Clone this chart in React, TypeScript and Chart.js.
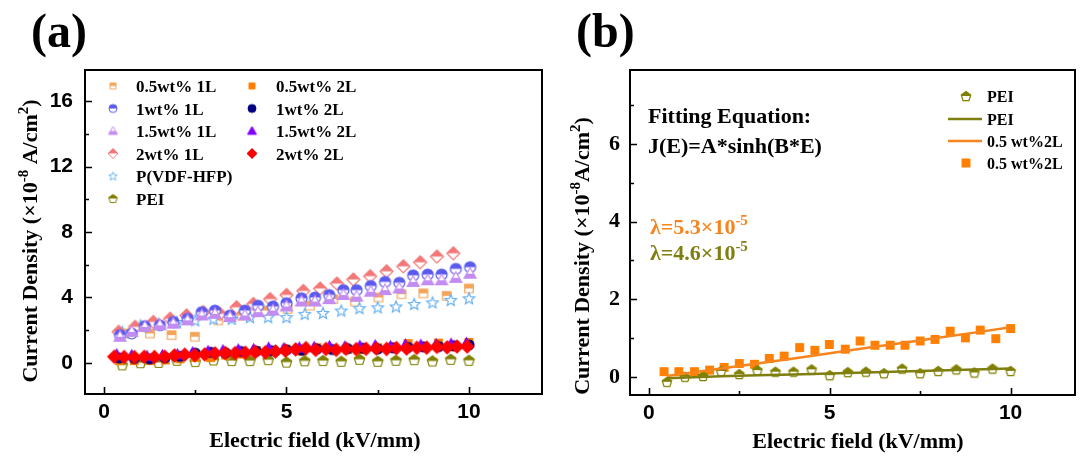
import React, { useEffect, useRef } from 'react';
import { Chart, registerables } from 'chart.js';

Chart.register(...registerables);

const SERIF = '"Liberation Serif", "Times New Roman", serif';
const SANS = '"Liberation Sans", Arial, sans-serif';

// ---------------- Panel (a) data ----------------
const x05wt1L = [0.58, 1.26, 1.85, 2.49, 3.13, 3.77, 4.41, 5.03, 5.64, 6.28, 6.88, 7.52, 8.15, 8.75, 9.39, 10.0];
const y05wt1L = [1.8, 1.8, 1.7, 1.6, 2.6, 2.9, 3.2, 3.3, 3.5, 3.9, 3.75, 4.0, 4.2, 4.25, 4.1, 4.55];

const x1wt1L = [0.44, 0.76, 1.12, 1.53, 1.9, 2.29, 2.68, 3.04, 3.45, 3.86, 4.22, 4.63, 5.0, 5.41, 5.78, 6.17, 6.56, 6.92, 7.31, 7.7, 8.09, 8.47, 8.87, 9.25, 9.64, 10.03];
const y1wt1L = [1.7, 1.8, 2.25, 2.3, 2.5, 2.7, 3.1, 3.2, 2.9, 3.2, 3.5, 3.45, 3.65, 3.95, 4.0, 4.15, 4.45, 4.45, 4.7, 4.95, 4.9, 5.35, 5.4, 5.4, 5.75, 5.85];

const x15wt1L = [0.44, 0.76, 1.12, 1.53, 1.9, 2.29, 2.68, 3.04, 3.45, 3.86, 4.22, 4.63, 5.0, 5.41, 5.78, 6.17, 6.56, 6.92, 7.31, 7.7, 8.09, 8.47, 8.87, 9.25, 9.64, 10.03];
const y15wt1L = [1.6, 1.9, 2.2, 2.3, 2.4, 2.6, 2.9, 3.0, 2.8, 2.9, 3.1, 3.2, 3.45, 3.75, 3.75, 3.9, 4.15, 4.05, 4.35, 4.45, 4.55, 4.95, 5.05, 5.05, 5.2, 5.45];

const x2wt1L = [0.4, 0.85, 1.35, 1.81, 2.26, 2.72, 3.18, 3.63, 4.09, 4.55, 5.0, 5.46, 5.92, 6.38, 6.83, 7.29, 7.74, 8.2, 8.66, 9.12, 9.57];
const y2wt1L = [1.9, 2.2, 2.5, 2.7, 2.9, 3.1, 3.0, 3.4, 3.6, 3.9, 4.15, 4.4, 4.55, 4.85, 5.1, 5.3, 5.6, 5.9, 6.15, 6.5, 6.7];

const xPVDF = [0.5, 1.0, 1.5, 2.0, 2.5, 3.0, 3.5, 4.0, 4.5, 5.0, 5.5, 6.0, 6.5, 7.0, 7.5, 8.0, 8.5, 9.0, 9.5, 10.0];
const yPVDF = [1.9, 2.3, 2.4, 2.5, 2.6, 2.7, 2.7, 2.8, 2.8, 2.8, 3.0, 3.05, 3.2, 3.35, 3.4, 3.45, 3.6, 3.7, 3.85, 3.95];

const xPEI = [0.5, 1.0, 1.5, 2.0, 2.5, 3.0, 3.5, 4.0, 4.5, 5.0, 5.5, 6.0, 6.5, 7.0, 7.5, 8.0, 8.5, 9.0, 9.5, 10.0];
const yPEI = [-0.12, 0.01, 0.03, 0.16, 0.08, 0.18, 0.14, 0.14, 0.2, 0.05, 0.13, 0.14, 0.1, 0.22, 0.1, 0.16, 0.2, 0.12, 0.22, 0.16];

const x05wt2L = [0.42, 0.83, 1.26, 1.68, 2.08, 2.5, 2.92, 3.33, 3.74, 4.17, 4.59, 4.99, 5.43, 5.84, 6.25, 6.67, 7.08, 7.5, 7.91, 8.33, 8.75, 9.16, 9.59, 10.0];
const y05wt2L = [0.14, 0.14, 0.14, 0.18, 0.25, 0.35, 0.33, 0.48, 0.54, 0.76, 0.69, 0.84, 0.72, 0.93, 0.82, 0.82, 0.82, 0.93, 0.97, 1.18, 1.01, 1.21, 0.99, 1.25];

const x1wt2L = [0.42, 0.83, 1.25, 1.67, 2.08, 2.5, 2.92, 3.33, 3.75, 4.17, 4.58, 5.0, 5.42, 5.83, 6.25, 6.67, 7.08, 7.5, 7.92, 8.33, 8.75, 9.17, 9.58, 10.0];
const y1wt2L = [0.3, 0.28, 0.25, 0.32, 0.4, 0.6, 0.65, 0.62, 0.7, 0.72, 0.75, 0.8, 0.78, 0.85, 0.82, 0.88, 0.9, 0.85, 0.92, 0.95, 0.98, 1.0, 1.05, 1.1];

const x15wt2L = [0.35, 0.76, 1.18, 1.6, 2.01, 2.43, 2.85, 3.26, 3.68, 4.1, 4.51, 4.93, 5.35, 5.76, 6.18, 6.6, 7.01, 7.43, 7.85, 8.26, 8.68, 9.1, 9.51, 9.93];
const y15wt2L = [0.5, 0.45, 0.4, 0.45, 0.5, 0.62, 0.7, 0.75, 0.8, 0.82, 0.9, 0.88, 0.92, 0.95, 1.0, 0.98, 1.02, 1.05, 1.0, 1.1, 1.08, 1.12, 1.15, 1.2];

const x2wt2L = [0.28, 0.55, 0.83, 1.1, 1.38, 1.66, 1.93, 2.21, 2.49, 2.76, 3.04, 3.32, 3.59, 3.87, 4.14, 4.42, 4.7, 4.97, 5.25, 5.53, 5.8, 6.08, 6.36, 6.63, 6.91, 7.18, 7.46, 7.74, 8.01, 8.29, 8.57, 8.84, 9.12, 9.4, 9.67, 9.95];
const y2wt2L = [0.38, 0.36, 0.35, 0.37, 0.36, 0.38, 0.45, 0.5, 0.47, 0.52, 0.58, 0.6, 0.6, 0.62, 0.66, 0.65, 0.7, 0.75, 0.82, 0.9, 0.8, 0.85, 0.8, 0.86, 0.84, 0.86, 0.88, 0.85, 0.9, 0.88, 0.92, 0.93, 0.98, 0.95, 1.0, 1.0];

// ---------------- Panel (b) fit curves ----------------
const xFit = [0.5, 2, 4, 6, 8, 10];
const yFit05wt2L = [0.03, 0.22, 0.48, 0.75, 1.01, 1.28];
const yFitPEI = [-0.03, 0.02, 0.07, 0.12, 0.17, 0.22];

// ---------------- Tick definitions ----------------
const xMinorTicks = [2.5, 7.5];
const yMinorTicksA = [2, 6, 10, 14];
const yMinorTicksB = [1, 3, 5, 7];

// ---------------- Labels ----------------
const legendLeftA = ['0.5wt% 1L', '1wt% 1L', '1.5wt% 1L', '2wt% 1L', 'P(VDF-HFP)', 'PEI'];
const legendRightA = ['0.5wt% 2L', '1wt% 2L', '1.5wt% 2L', '2wt% 2L'];
const legendB = ['PEI', 'PEI', '0.5 wt%2L', '0.5 wt%2L'];

const C = {
  o1L: '#F4A55A',
  b1L: '#5A5AEE',
  p1L: '#C38CF0',
  r1L: '#F47878',
  pvdf: '#6AB2F2',
  pei: '#808000',
  o2L: '#FF8000',
  b2L: '#000080',
  p2L: '#8000FF',
  r2L: '#FF0000',
  fitO: '#F7841C',
  fitP: '#7F7F10',
};

type Shape = 'square' | 'circle' | 'triangle' | 'diamond' | 'star' | 'pentagon';
type Fill = 'full' | 'top' | 'bottom' | 'none';

function pathShape(ctx: CanvasRenderingContext2D, shape: Shape, c: number, h: number) {
  ctx.beginPath();
  switch (shape) {
    case 'square':
      ctx.rect(c - h * 0.85, c - h * 0.85, h * 1.7, h * 1.7);
      break;
    case 'circle':
      ctx.arc(c, c, h, 0, Math.PI * 2);
      break;
    case 'triangle':
      ctx.moveTo(c, c - h);
      ctx.lineTo(c + h, c + h * 0.75);
      ctx.lineTo(c - h, c + h * 0.75);
      ctx.closePath();
      break;
    case 'diamond':
      ctx.moveTo(c, c - h);
      ctx.lineTo(c + h, c);
      ctx.lineTo(c, c + h);
      ctx.lineTo(c - h, c);
      ctx.closePath();
      break;
    case 'star':
      for (let i = 0; i < 10; i++) {
        const r = i % 2 ? h * 0.45 : h;
        const a = -Math.PI / 2 + (i * Math.PI) / 5;
        const px = c + r * Math.cos(a);
        const py = c + r * Math.sin(a) + h * 0.1;
        if (i === 0) ctx.moveTo(px, py);
        else ctx.lineTo(px, py);
      }
      ctx.closePath();
      break;
    case 'pentagon':
      for (let i = 0; i < 5; i++) {
        const a = -Math.PI / 2 + (i * 2 * Math.PI) / 5;
        const px = c + h * Math.cos(a);
        const py = c + h * Math.sin(a) + h * 0.1;
        if (i === 0) ctx.moveTo(px, py);
        else ctx.lineTo(px, py);
      }
      ctx.closePath();
      break;
  }
}

function makeMarker(shape: Shape, color: string, fill: Fill, size: number, lw = 1.2): HTMLCanvasElement {
  const dim = Math.ceil(size + 4);
  const cv = document.createElement('canvas');
  cv.width = dim;
  cv.height = dim;
  const ctx = cv.getContext('2d')!;
  const c = dim / 2;
  const h = size / 2;
  ctx.lineWidth = lw;
  ctx.strokeStyle = color;
  ctx.lineJoin = 'miter';
  pathShape(ctx, shape, c, h);
  if (fill === 'full') {
    ctx.fillStyle = color;
    ctx.fill();
    ctx.stroke();
    return cv;
  }
  ctx.fillStyle = '#ffffff';
  ctx.fill();
  if (fill === 'top' || fill === 'bottom') {
    ctx.save();
    ctx.beginPath();
    if (fill === 'top') ctx.rect(0, 0, dim, c);
    else ctx.rect(0, c, dim, dim - c);
    ctx.clip();
    pathShape(ctx, shape, c, h);
    ctx.fillStyle = color;
    ctx.fill();
    ctx.restore();
  }
  pathShape(ctx, shape, c, h);
  ctx.stroke();
  return cv;
}

type Part = { t: string; sup?: boolean };

function drawRich(
  ctx: CanvasRenderingContext2D,
  parts: Part[],
  x: number,
  y: number,
  size: number,
  color: string,
  align: 'left' | 'center' = 'left'
) {
  const supSize = Math.round(size * 0.66);
  const measure = (p: Part) => {
    ctx.font = `bold ${p.sup ? supSize : size}px ${SERIF}`;
    return ctx.measureText(p.t).width;
  };
  const total = parts.reduce((s, p) => s + measure(p), 0);
  let cx = align === 'center' ? x - total / 2 : x;
  ctx.fillStyle = color;
  ctx.textAlign = 'left';
  ctx.textBaseline = 'alphabetic';
  for (const p of parts) {
    ctx.font = `bold ${p.sup ? supSize : size}px ${SERIF}`;
    ctx.fillText(p.t, cx, p.sup ? y - size * 0.42 : y);
    cx += ctx.measureText(p.t).width;
  }
}

function drawFrameAndTicks(chart: any, yMinor: number[]) {
  const { ctx, chartArea: ca, scales } = chart;
  const xs = scales.x;
  const ys = scales.y;
  ctx.save();
  ctx.strokeStyle = '#000';
  ctx.lineWidth = 2;
  ctx.strokeRect(ca.left, ca.top, ca.right - ca.left, ca.bottom - ca.top);
  ctx.lineWidth = 1.6;
  ctx.beginPath();
  const major = 7;
  const minor = 4;
  xs.ticks.forEach((t: any) => {
    const p = Math.round(xs.getPixelForValue(t.value)) + 0.5;
    ctx.moveTo(p, ca.bottom);
    ctx.lineTo(p, ca.bottom - major);
  });
  xMinorTicks.forEach((v) => {
    const p = Math.round(xs.getPixelForValue(v)) + 0.5;
    ctx.moveTo(p, ca.bottom);
    ctx.lineTo(p, ca.bottom - minor);
  });
  ys.ticks.forEach((t: any) => {
    const p = Math.round(ys.getPixelForValue(t.value)) + 0.5;
    ctx.moveTo(ca.left, p);
    ctx.lineTo(ca.left + major, p);
  });
  yMinor.forEach((v) => {
    const p = Math.round(ys.getPixelForValue(v)) + 0.5;
    ctx.moveTo(ca.left, p);
    ctx.lineTo(ca.left + minor, p);
  });
  ctx.stroke();
  ctx.restore();
}

function drawYTitle(ctx: CanvasRenderingContext2D, cx: number, cy: number, gap: boolean) {
  const parts: Part[] = [
    { t: 'Current Density (×10' },
    { t: '-8', sup: true },
    { t: gap ? ' A/cm' : 'A/cm' },
    { t: '2', sup: true },
    { t: ')' },
  ];
  ctx.save();
  ctx.translate(cx, cy);
  ctx.rotate(-Math.PI / 2);
  drawRich(ctx, parts, 0, 7, 22, '#000', 'center');
  ctx.restore();
}

function pts(xs: number[], ys: number[]) {
  return xs.map((x, i) => ({ x, y: ys[i] }));
}

export default function App() {
  const refA = useRef<HTMLCanvasElement>(null);
  const refB = useRef<HTMLCanvasElement>(null);

  useEffect(() => {
    // markers for panel (a)
    const mk = {
      o1L: makeMarker('square', C.o1L, 'top', 10),
      b1L: makeMarker('circle', C.b1L, 'top', 11),
      p1L: makeMarker('triangle', C.p1L, 'bottom', 12),
      r1L: makeMarker('diamond', C.r1L, 'top', 13),
      pvdf: makeMarker('star', C.pvdf, 'none', 12),
      pei: makeMarker('pentagon', C.pei, 'top', 11),
      o2L: makeMarker('square', C.o2L, 'full', 9),
      b2L: makeMarker('circle', C.b2L, 'full', 10),
      p2L: makeMarker('triangle', C.p2L, 'full', 11),
      r2L: makeMarker('diamond', C.r2L, 'full', 13),
    };
    const lg = {
      o1L: makeMarker('square', C.o1L, 'top', 7, 1),
      b1L: makeMarker('circle', C.b1L, 'top', 8, 1),
      p1L: makeMarker('triangle', C.p1L, 'bottom', 9, 1),
      r1L: makeMarker('diamond', C.r1L, 'top', 10, 1),
      pvdf: makeMarker('star', C.pvdf, 'none', 9, 1),
      pei: makeMarker('pentagon', C.pei, 'top', 9, 1),
      o2L: makeMarker('square', C.o2L, 'full', 7, 1),
      b2L: makeMarker('circle', C.b2L, 'full', 8, 1),
      p2L: makeMarker('triangle', C.p2L, 'full', 9, 1),
      r2L: makeMarker('diamond', C.r2L, 'full', 10, 1),
    };
    const mkB = {
      pei: makeMarker('pentagon', C.pei, 'top', 10),
      o2L: makeMarker('square', C.o2L, 'full', 9),
    };

    const ds = (label: string, xs: number[], ys: number[], img: HTMLCanvasElement, order: number) => ({
      label,
      data: pts(xs, ys),
      pointStyle: img,
      pointRadius: 5,
      showLine: false,
      order,
    });

    const commonScaleX = (afterH: number, min: number, max: number) => ({
      type: 'linear' as const,
      min,
      max,
      grid: { display: false, drawTicks: false },
      border: { display: false },
      ticks: {
        stepSize: 5,
        includeBounds: false,
        color: '#000',
        padding: 6,
        font: { family: SANS, size: 21, weight: 'bold' as const },
      },
      afterFit: (s: any) => {
        s.height = afterH;
      },
    });

    const pluginA = {
      id: 'panelA',
      afterDraw(chart: any) {
        const ctx: CanvasRenderingContext2D = chart.ctx;
        drawFrameAndTicks(chart, yMinorTicksA);
        ctx.save();
        // panel label
        ctx.fillStyle = '#000';
        ctx.font = `bold 48px ${SERIF}`;
        ctx.textAlign = 'left';
        ctx.textBaseline = 'alphabetic';
        ctx.fillText('(a)', 31, 47);
        // axis titles
        drawRich(ctx, [{ t: 'Electric field (kV/mm)' }], 315, 447, 22, '#000', 'center');
        drawYTitle(ctx, 30, 241, true);
        // legend
        const rows = [86, 108.5, 131, 153.5, 176, 198.5];
        const leftImgs = [lg.o1L, lg.b1L, lg.p1L, lg.r1L, lg.pvdf, lg.pei];
        const rightImgs = [lg.o2L, lg.b2L, lg.p2L, lg.r2L];
        ctx.font = `bold 17px ${SERIF}`;
        ctx.fillStyle = '#000';
        legendLeftA.forEach((t, i) => {
          const im = leftImgs[i];
          ctx.drawImage(im, 113 - im.width / 2, rows[i] - im.height / 2);
          ctx.fillText(t, 136, rows[i] + 6);
        });
        legendRightA.forEach((t, i) => {
          const im = rightImgs[i];
          ctx.drawImage(im, 252 - im.width / 2, rows[i] - im.height / 2);
          ctx.fillText(t, 276, rows[i] + 6);
        });
        ctx.restore();
      },
    };

    const chartA = new Chart(refA.current!, {
      type: 'scatter',
      data: {
        datasets: [
          ds('0.5wt% 1L', x05wt1L, y05wt1L, mk.o1L, 9),
          ds('1wt% 1L', x1wt1L, y1wt1L, mk.b1L, 6),
          ds('1.5wt% 1L', x15wt1L, y15wt1L, mk.p1L, 5),
          ds('2wt% 1L', x2wt1L, y2wt1L, mk.r1L, 7),
          ds('P(VDF-HFP)', xPVDF, yPVDF, mk.pvdf, 8),
          ds('PEI', xPEI, yPEI, mk.pei, 4),
          ds('0.5wt% 2L', x05wt2L, y05wt2L, mk.o2L, 3),
          ds('1wt% 2L', x1wt2L, y1wt2L, mk.b2L, 2),
          ds('1.5wt% 2L', x15wt2L, y15wt2L, mk.p2L, 1),
          ds('2wt% 2L', x2wt2L, y2wt2L, mk.r2L, 0),
        ] as any,
      },
      options: {
        responsive: false,
        maintainAspectRatio: false,
        animation: false,
        devicePixelRatio: 1,
        layout: { padding: { left: 0, top: 70, right: 6, bottom: 0 } },
        plugins: { legend: { display: false }, tooltip: { enabled: false } },
        scales: {
          x: commonScaleX(63, -0.52, 12.0) as any,
          y: {
            type: 'linear',
            min: -1.9,
            max: 17.9,
            grid: { display: false, drawTicks: false },
            border: { display: false },
            ticks: {
              stepSize: 4,
              includeBounds: false,
              color: '#000',
              padding: 12,
              font: { family: SANS, size: 21, weight: 'bold' },
            },
            afterFit: (s: any) => {
              s.width = 85;
            },
          } as any,
        },
      },
      plugins: [pluginA],
    });

    const pluginB = {
      id: 'panelB',
      afterDraw(chart: any) {
        const ctx: CanvasRenderingContext2D = chart.ctx;
        drawFrameAndTicks(chart, yMinorTicksB);
        ctx.save();
        ctx.fillStyle = '#000';
        ctx.font = `bold 48px ${SERIF}`;
        ctx.textAlign = 'left';
        ctx.textBaseline = 'alphabetic';
        ctx.fillText('(b)', 28, 47);
        drawRich(ctx, [{ t: 'Electric field (kV/mm)' }], 310, 448, 22, '#000', 'center');
        drawYTitle(ctx, 34, 256, false);
        // annotations
        drawRich(ctx, [{ t: 'Fitting Equation:' }], 100, 123, 22, '#000');
        drawRich(ctx, [{ t: 'J(E)=A*sinh(B*E)' }], 100, 153, 22, '#000');
        drawRich(ctx, [{ t: 'λ=5.3×10' }, { t: '-5', sup: true }], 102, 234, 22, C.fitO);
        drawRich(ctx, [{ t: 'λ=4.6×10' }, { t: '-5', sup: true }], 102, 260, 22, C.fitP);
        // legend
        const rows = [96, 119, 141, 163];
        const mx = 966 - 548;
        const tx = 987 - 548;
        ctx.drawImage(mkB.pei, mx - mkB.pei.width / 2, rows[0] - mkB.pei.height / 2);
        ctx.strokeStyle = C.fitP;
        ctx.lineWidth = 2.5;
        ctx.beginPath();
        ctx.moveTo(mx - 18, rows[1]);
        ctx.lineTo(mx + 16, rows[1]);
        ctx.stroke();
        ctx.strokeStyle = C.fitO;
        ctx.beginPath();
        ctx.moveTo(mx - 18, rows[2]);
        ctx.lineTo(mx + 16, rows[2]);
        ctx.stroke();
        ctx.drawImage(mkB.o2L, mx - mkB.o2L.width / 2, rows[3] - mkB.o2L.height / 2);
        ctx.font = `bold 16px ${SERIF}`;
        ctx.fillStyle = '#000';
        legendB.forEach((t, i) => ctx.fillText(t, tx, rows[i] + 6));
        ctx.restore();
      },
    };

    const chartB = new Chart(refB.current!, {
      type: 'scatter',
      data: {
        datasets: [
          {
            label: 'PEI',
            data: pts(xPEI, yPEI),
            pointStyle: mkB.pei,
            pointRadius: 5,
            showLine: false,
            order: 3,
          },
          {
            label: 'PEI fit',
            data: pts(xFit, yFitPEI),
            showLine: true,
            borderColor: C.fitP,
            borderWidth: 2.5,
            pointRadius: 0,
            tension: 0.3,
            order: 1,
          },
          {
            label: '0.5 wt%2L fit',
            data: pts(xFit, yFit05wt2L),
            showLine: true,
            borderColor: C.fitO,
            borderWidth: 2.5,
            pointRadius: 0,
            tension: 0.3,
            order: 2,
          },
          {
            label: '0.5 wt%2L',
            data: pts(x05wt2L, y05wt2L),
            pointStyle: mkB.o2L,
            pointRadius: 5,
            showLine: false,
            order: 4,
          },
        ] as any,
      },
      options: {
        responsive: false,
        maintainAspectRatio: false,
        animation: false,
        devicePixelRatio: 1,
        layout: { padding: { left: 0, top: 70, right: 2, bottom: 0 } },
        plugins: { legend: { display: false }, tooltip: { enabled: false } },
        scales: {
          x: commonScaleX(62, -0.52, 11.78) as any,
          y: {
            type: 'linear',
            min: -0.46,
            max: 7.9,
            grid: { display: false, drawTicks: false },
            border: { display: false },
            ticks: {
              stepSize: 2,
              includeBounds: false,
              color: '#000',
              padding: 10,
              font: { family: SERIF, size: 22, weight: 'bold' },
            },
            afterFit: (s: any) => {
              s.width = 82;
            },
          } as any,
        },
      },
      plugins: [pluginB],
    });

    return () => {
      chartA.destroy();
      chartB.destroy();
    };
  }, []);

  return (
    <div style={{ position: 'absolute', left: 0, top: 0, width: 1081, height: 457, background: '#fff' }}>
      <canvas
        ref={refA}
        width={548}
        height={457}
        style={{ position: 'absolute', left: 0, top: 0, width: 548, height: 457 }}
      />
      <canvas
        ref={refB}
        width={533}
        height={457}
        style={{ position: 'absolute', left: 548, top: 0, width: 533, height: 457 }}
      />
    </div>
  );
}
